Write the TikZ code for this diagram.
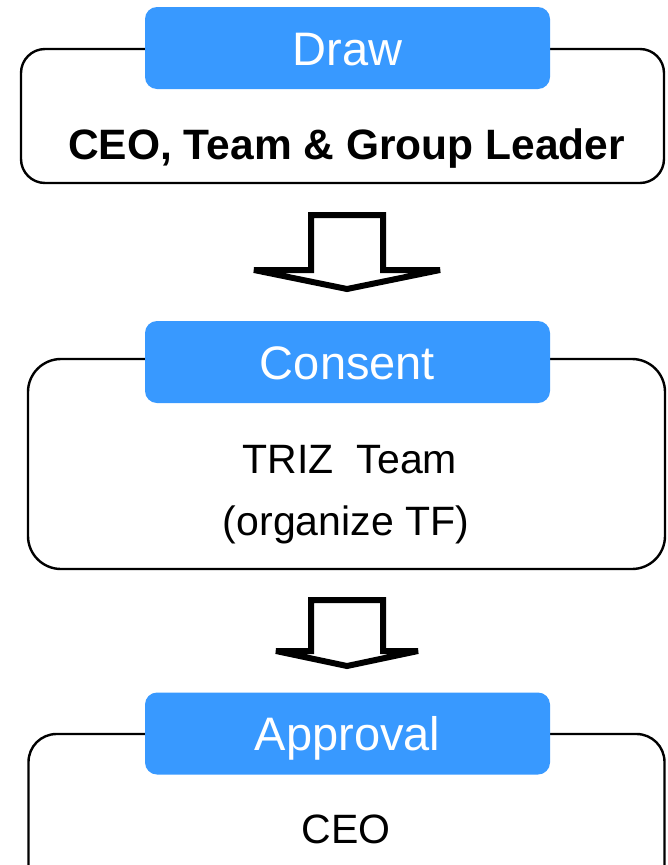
\documentclass[tikz,border=0pt]{standalone}
\usepackage{fontspec}
\setmainfont{Liberation Sans}
\definecolor{lblue}{RGB}{56,153,255}
\begin{document}
\begin{tikzpicture}[x=1pt,y=-1pt,
  framebox/.style={draw=black,line width=2.4pt,fill=white,inner sep=0pt},
  tagbox/.style={fill=lblue,rounded corners=12pt,minimum width=405pt,minimum height=82pt,
    inner sep=0pt,text=white,font=\fontsize{47}{56}\selectfont,text height=34pt,text depth=0pt},
  bodytext/.style={anchor=base,inner sep=0pt,font=\fontsize{41}{49}\selectfont},
  blockarrow/.style={draw=black,line width=6pt,fill=white,line join=miter,miter limit=3}]
\useasboundingbox (0,0) rectangle (668,865);
\fill[white] (0,0) rectangle (668,865);
% frames
\node[framebox,rounded corners=24pt,minimum width=643pt,minimum height=134pt] (f1) at (342.5,116) {};
\node[framebox,rounded corners=33pt,minimum width=637pt,minimum height=210pt] (f2) at (346.5,464) {};
\node[framebox,rounded corners=28pt,minimum width=636pt,minimum height=200pt] (f3) at (346.5,834) {};
% tags
\node[tagbox] (t1) at (347.5,48) {Draw};
\node[tagbox] (t2) at (347.5,362) {Consent};
\node[tagbox] (t3) at (347.5,733.5) {Approval};
% texts
\node[bodytext,font=\fontsize{42.5}{50}\selectfont\bfseries] (x1) at (346.5,159) {CEO, Team \& Group Leader};
\node[bodytext] (x2) at (350,473) {TRIZ\ \ Team};
\node[bodytext] (x3) at (346,535) {(organize TF)};
\node[bodytext] (x4) at (346,843) {CEO};
% block arrows
\draw[blockarrow] (311,215) -- (383,215) -- (383,270) -- (440,270) -- (347,289) -- (254,270) -- (311,270) -- cycle;
\draw[blockarrow] (311,600) -- (383,600) -- (383,651) -- (418,651) -- (347,666) -- (276,651) -- (311,651) -- cycle;
\end{tikzpicture}
\end{document}
